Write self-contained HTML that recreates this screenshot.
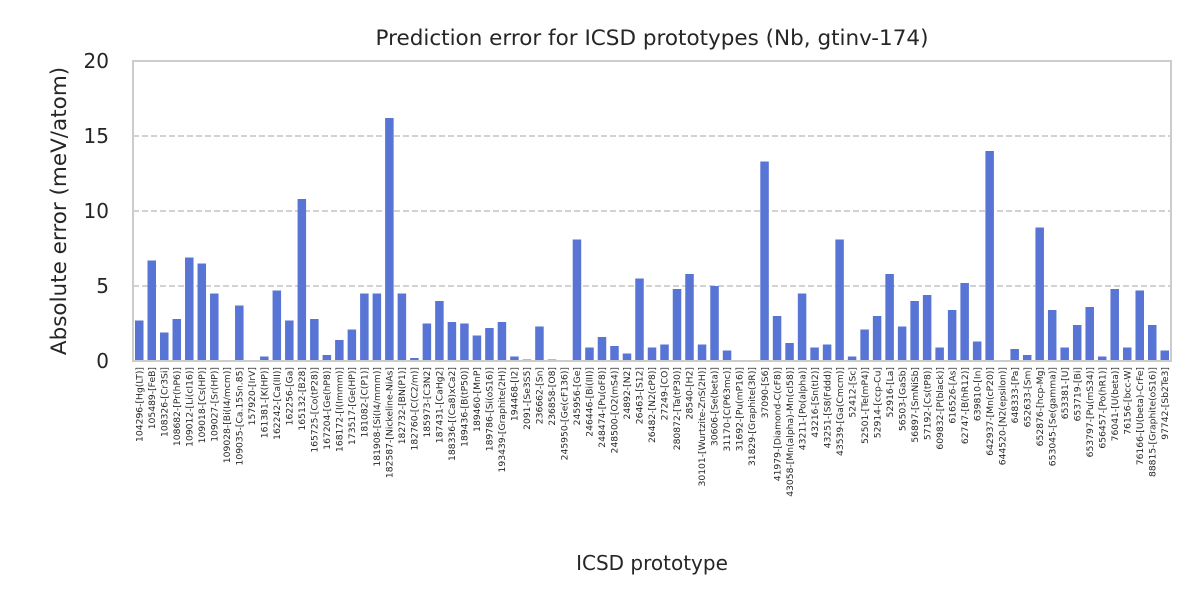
<!DOCTYPE html>
<html><head><meta charset="utf-8"><style>
html,body{margin:0;padding:0;background:#fff;}
svg{display:block;font-family:"DejaVu Sans","Liberation Sans",sans-serif;}
</style></head><body>
<svg id="chart" width="1200" height="600">
<text x="652" y="45" text-anchor="middle" font-size="21.5" fill="#262626">Prediction error for ICSD prototypes (Nb, gtinv-174)</text>
<text transform="translate(66,211) rotate(-90)" text-anchor="middle" font-size="21.5" fill="#262626">Absolute error (meV/atom)</text>
<text x="652" y="570" text-anchor="middle" font-size="20" fill="#262626">ICSD prototype</text>
<g id="grid"></g>
<g id="bars"></g>
<g id="yticks"></g>
<g id="xticks"></g>
<rect x="133" y="61" width="1038" height="300" fill="none" stroke="#cccccc" stroke-width="2"/>
</svg>
<script>
const categories = ["104296-[Hg(LT)]","105489-[FeB]","108326-[Cr3Si]","108682-[Pr(hP6)]","109012-[Li(cI16)]","109018-[Cs(HP)]","109027-[Sr(HP)]","109028-[Bi(I4/mcm)]","109035-[Ca.15Sn.85]","157920-[IrV]","161381-[K(HP)]","162242-[Ca(III)]","162256-[Ga]","165132-[B28]","165725-[Co(tP28)]","167204-[Ge(hP8)]","168172-[I(Immm)]","173517-[Ge(HP)]","181082-[C(P1)]","181908-[Si(I4/mmm)]","182587-[Nickeline-NiAs]","182732-[BN(P1)]","182760-[C(C2/m)]","185973-[C3N2]","187431-[CaHg2]","188336-[(Ca8)xCa2]","189436-[B(tP50)]","189460-[MnP]","189786-[Si(oS16)]","193439-[Graphite(2H)]","194468-[I2]","2091-[Se3S5]","236662-[Sn]","236858-[O8]","245950-[Ge(cF136)]","245956-[Ge]","246446-[Bi(III)]","248474-[Pu(oF8)]","248500-[O2(mS4)]","24892-[N2]","26463-[S12]","26482-[N2(cP8)]","27249-[CO]","280872-[Ta(tP30)]","28540-[H2]","30101-[Wurtzite-ZnS(2H)]","30606-[Se(beta)]","31170-[C(P63mc)]","31692-[Pu(mP16)]","31829-[Graphite(3R)]","37090-[S6]","41979-[Diamond-C(cF8)]","43058-[Mn(alpha)-Mn(cI58)]","43211-[Po(alpha)]","43216-[Sn(tI2)]","43251-[S8(Fddd)]","43539-[Ga(Cmcm)]","52412-[Sc]","52501-[Te(mP4)]","52914-[ccp-Cu]","52916-[La]","56503-[GaSb]","56897-[SmNiSb]","57192-[Cs(tP8)]","609832-[P(black)]","616526-[As]","62747-[B(hR12)]","639810-[In]","642937-[Mn(cP20)]","644520-[N2(epsilon)]","648333-[Pa]","652633-[Sm]","652876-[hcp-Mg]","653045-[Se(gamma)]","653381-[U]","653719-[Bi]","653797-[Pu(mS34)]","656457-[Po(hR1)]","76041-[U(beta)]","76156-[bcc-W]","76166-[U(beta)-CrFe]","88815-[Graphite(oS16)]","97742-[Sb2Te3]"];
const errors = [2.7,6.7,1.9,2.8,6.9,6.5,4.5,0,3.7,0,0.3,4.7,2.7,10.8,2.8,0.4,1.4,2.1,4.5,4.5,16.2,4.5,0.2,2.5,4.0,2.6,2.5,1.7,2.2,2.6,0.3,0.1,2.3,0.1,0,8.1,0.9,1.6,1.0,0.5,5.5,0.9,1.1,4.8,5.8,1.1,5.0,0.7,0,0,13.3,3.0,1.2,4.5,0.9,1.1,8.1,0.3,2.1,3.0,5.8,2.3,4.0,4.4,0.9,3.4,5.2,1.3,14.0,0,0.8,0.4,8.9,3.4,0.9,2.4,3.6,0.3,4.8,0.9,4.7,2.4,0.7];
const yTicks = [0,5,10,15,20];

const NS="http://www.w3.org/2000/svg";
const L=133,R=1171,T=61,B=361,yMax=20;
const slot=(R-L)/categories.length;
const xc=i=>L+slot*(i+0.5);
const ys=v=>B-(v/yMax)*(B-T);
function mk(t,a){const e=document.createElementNS(NS,t);for(const k in a)e.setAttribute(k,a[k]);return e;}
const grid=document.getElementById('grid'),bars=document.getElementById('bars'),yt=document.getElementById('yticks'),xt=document.getElementById('xticks');
yTicks.forEach(v=>{
  if(v>0&&v<yMax){const g=mk('line',{x1:L,x2:R,y1:ys(v),y2:ys(v),stroke:'#cccccc','stroke-width':1.8,'stroke-dasharray':'6,3'});
  
  
  grid.appendChild(g);}
  const t=mk('text',{x:L-24,y:ys(v)+7,'text-anchor':'end','font-size':20,fill:'#262626'});
  t.textContent=v;
  
  
  yt.appendChild(t);
});
const bw=slot*0.68;
errors.forEach((v,i)=>{
  const r=mk('rect',{x:xc(i)-bw/2,y:ys(v),width:bw,height:B-ys(v),fill:'#5874d4'});
  
  
  bars.appendChild(r);
});
categories.forEach((c,i)=>{
  const t=mk('text',{transform:`translate(${xc(i)+3.2},367) rotate(-90)`,'text-anchor':'end','font-size':9.2,fill:'#262626'});
  t.textContent=c;
  
  
  xt.appendChild(t);
});
</script>
</body></html>
